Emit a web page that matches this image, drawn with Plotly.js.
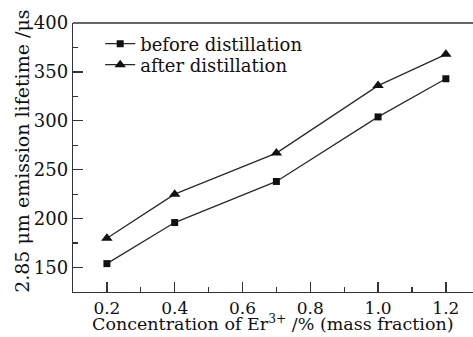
<!DOCTYPE html>
<html><head><meta charset="utf-8">
<script src="https://cdn.plot.ly/plotly-3.0.1.min.js"></script>
<style>body{margin:0;padding:0;background:#fff}#chart{width:473px;height:337px}</style>
</head><body><div id="chart"></div>
<script>
const concentration = [0.2, 0.4, 0.7, 1.0, 1.2];
const beforeDistillation = [154, 196, 238, 304, 343];
const afterDistillation = [180, 225, 267, 336, 368];
const seriesNames = ['before distillation', 'after distillation'];
const xTicks = [0.2, 0.4, 0.6, 0.8, 1.0, 1.2];
const xTickLabels = ['0.2', '0.4', '0.6', '0.8', '1.0', '1.2'];
const yTicks = [150, 200, 250, 300, 350, 400];
const xTitle = 'Concentration of Er<sup>3+</sup> /% (mass fraction)';
const yTitle = '2.85 μm emission lifetime /μs';

const font = '"DejaVu Serif", "Liberation Serif", serif';
const lineCol = '#2a2a2a';
const traces = [
  {x: concentration, y: beforeDistillation, name: seriesNames[0], type: 'scatter', mode: 'lines+markers',
   legend: 'legend',
   line: {color: lineCol, width: 1.3}, marker: {symbol: 'square', size: 7, color: '#111'}},
  {x: concentration, y: afterDistillation, name: seriesNames[1], type: 'scatter', mode: 'lines+markers',
   legend: 'legend2',
   line: {color: lineCol, width: 1.3}, marker: {symbol: 'triangle-up', size: 10, color: '#111'}}
];
const legFont = {family: font, size: 18, color: '#111'};
const layout = {
  width: 473, height: 337,
  margin: {l: 73, r: 0, t: 23, b: 45},
  paper_bgcolor: '#fff', plot_bgcolor: '#fff',
  font: {family: font, size: 18, color: '#111'},
  showlegend: true,
  legend: {x: 0.068, y: 0.922, xanchor: 'left', yanchor: 'middle', bgcolor: 'rgba(0,0,0,0)',
           font: legFont, itemwidth: 30},
  legend2: {x: 0.068, y: 0.844, xanchor: 'left', yanchor: 'middle', bgcolor: 'rgba(0,0,0,0)',
           font: legFont, itemwidth: 30},
  xaxis: {range: [0.1, 1.28], tickvals: xTicks, ticktext: xTickLabels, ticks: 'inside', ticklen: 10,
          tickwidth: 1.3, tickcolor: '#333', showline: true, linecolor: '#333', linewidth: 1.3,
          mirror: false, showgrid: false, zeroline: false,
          minor: {dtick: 0.1, tick0: 0.1, ticks: 'inside', ticklen: 5, tickcolor: '#333', tickwidth: 1.3},
          tickfont: {family: font, size: 17, color: '#111'}},
  yaxis: {range: [125, 400], tickvals: yTicks, ticks: 'inside', ticklen: 10,
          tickwidth: 1.3, tickcolor: '#333', showline: true, linecolor: '#333', linewidth: 1.3,
          showgrid: false, zeroline: false,
          minor: {dtick: 25, tick0: 125, ticks: 'inside', ticklen: 5, tickcolor: '#333', tickwidth: 1.3},
          tickfont: {family: font, size: 18, color: '#111'}},
  annotations: [
    {text: xTitle, xref: 'paper', yref: 'paper', x: 0.957, y: -0.116, xanchor: 'right', yanchor: 'middle',
     showarrow: false, font: {family: font, size: 17.5, color: '#111'}},
    {text: yTitle, xref: 'paper', yref: 'paper', x: -0.128, y: 0.524, xanchor: 'center', yanchor: 'middle',
     textangle: -90, showarrow: false, font: {family: font, size: 19, color: '#111'}}
  ],
  shapes: [{type: 'line', xref: 'paper', yref: 'paper', x0: 0, x1: 1, y0: 1, y1: 1,
            line: {color: '#333', width: 1.3}}]
};
Plotly.newPlot('chart', traces, layout, {displayModeBar: false, staticPlot: true});
</script></body></html>
